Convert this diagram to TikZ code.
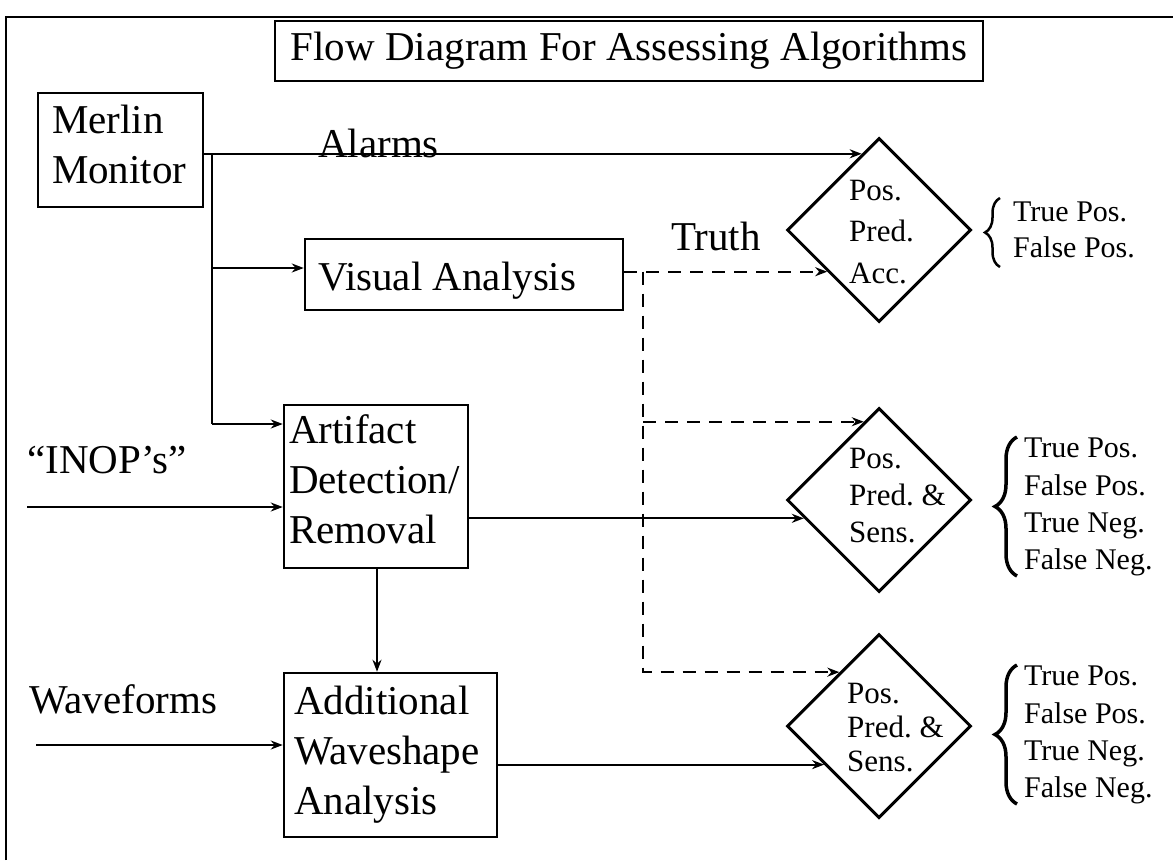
\documentclass[tikz,border=0pt]{standalone}
\usepackage{fontspec}
\setmainfont{Liberation Serif}
\usetikzlibrary{shapes.geometric,arrows.meta,calc,decorations.pathreplacing}
\newcommand\mainsz{\fontsize{41}{50}\selectfont}
\newcommand\nsp{\spaceskip=0pt\xspaceskip=0pt\relax}
\frenchspacing
\tikzset{
  frame/.style={line width=2.5pt},
  box/.style={draw, line width=2.5pt, inner ysep=0pt, font=\mainsz, align=left},
  conn/.style={line width=2.2pt},
  arr/.style={conn, -{Stealth[length=12pt,width=9pt]}},
  dline/.style={conn, dash pattern=on 13pt off 9pt},
  darr/.style={dline, -{Stealth[length=12pt,width=9pt]}},
  dia/.style={draw, diamond, line width=3pt, minimum width=184pt, minimum height=184pt, inner sep=0pt},
  dtxt/.style={anchor=north west, inner sep=0pt, align=left, font=\fontsize{31}{#1}\selectfont\frenchspacing},
  ltxtA/.style={anchor=north west, inner sep=0pt, align=left, font=\fontsize{30}{36}\selectfont\frenchspacing},
  ltxtB/.style={anchor=north west, inner sep=0pt, align=left, font=\fontsize{30}{37.3}\selectfont\frenchspacing},
  lbl/.style={inner sep=0pt, font=\mainsz},
  brc/.style={decorate, decoration={brace, amplitude=#1}},
}
\begin{document}
\begin{tikzpicture}[x=1pt,y=-1pt]
\useasboundingbox (0,0) rectangle (1173,860);
\draw[frame] (6,860) -- (6,17) -- (1173,17);

% boxes
\node[box, align=center, minimum width=708pt, minimum height=60pt] (title) at (629,51) {\nsp Flow Diagram For Assessing Algorithms};
\node[box, text width=137pt, inner xsep=14pt, minimum height=114pt] (mm) at (120.5,150) {Merlin\\Monitor\rule[-12pt]{0pt}{12pt}};
\node[box, text width=292pt, inner xsep=13pt, minimum height=71pt] (va) at (464,274.5) {\nsp\rule{0pt}{40pt}Visual Analysis};
\node[box, text width=174pt, inner xsep=5pt, minimum height=163pt] (ad) at (376,486.5) {Artifact\\Detection/\\Removal\rule[-15pt]{0pt}{15pt}};
\node[box, text width=193pt, inner xsep=10pt, minimum height=164pt] (aw) at (390.5,755) {Additional\\Waveshape\\Analysis};

% diamonds
\node[dia] (d1) at (879,230) {};
\node[dia] (d2) at (879,500) {};
\node[dia] (d3) at (879,726) {};
\node[dtxt=41.5] (t1) at (849,179.5) {Pos.\\Pred.\\Acc.};
\node[dtxt=37] (t2) at (849,447.5) {Pos.\\\nsp\frenchspacing Pred. \&\\Sens.};
\node[dtxt=34] (t3) at (847,682.5) {Pos.\\\nsp\frenchspacing Pred. \&\\Sens.};

% result lists
\node[ltxtA] (l1) at (1013,202) {\nsp True Pos.\\\nsp False Pos.};
\node[ltxtB] (l2) at (1024,438) {\nsp True Pos.\\\nsp False Pos.\\\nsp True Neg.\\\nsp False Neg.};
\node[ltxtB] (l3) at (1024,666) {\nsp True Pos.\\\nsp False Pos.\\\nsp True Neg.\\\nsp False Neg.};
\draw[brc=15pt, line width=2.5pt] (1000,267) -- (1000,198);
\draw[brc=22pt, line width=3.5pt] (1017,576) -- (1017,437);
\draw[brc=22pt, line width=3.5pt] (1017,804) -- (1017,665);

% labels
\node[lbl, anchor=base west] (alarms) at (318,157) {Alarms};
\node[lbl, anchor=base west] (truth) at (671,250) {Truth};
\node[lbl, anchor=base west] (inop) at (27,473) {“INOP’s”};
\node[lbl, anchor=base west] (wave) at (29,713) {Waveforms};

% connection points on diamonds
\coordinate (d1a) at ($(d1.west)!0.815!(d1.north)$);
\coordinate (d1b) at ($(d1.west)!0.446!(d1.south)$);
\coordinate (d2a) at ($(d2.west)!0.837!(d2.north)$);
\coordinate (d2b) at ($(d2.west)!0.196!(d2.south)$);
\coordinate (d3a) at ($(d3.west)!0.576!(d3.north)$);
\coordinate (d3b) at ($(d3.west)!0.413!(d3.south)$);

% solid connectors
\draw[arr] (mm.east |- d1a) -- (d1a);
\coordinate (jt) at (212,0 |- d1a);
\coordinate (jv) at (212,268);
\coordinate (ja) at (212,424);
\draw[conn] (jt) -- (ja);
\draw[arr] (jv) -- (jv -| va.west);
\draw[arr] (ja) -- (ja -| ad.west);
\coordinate (inop0) at (27,507);
\draw[arr] (inop0) -- (inop0 -| ad.west);
\coordinate (wave0) at (36,745);
\draw[arr] (wave0) -- (wave0 -| aw.west);
\draw[arr] (ad.east |- d2b) -- (d2b);
\draw[arr] (aw.east |- d3b) -- (d3b);
\draw[arr] (377,0 |- ad.south) -- (377,0 |- aw.north);

% dashed truth connectors
\draw[darr] (va.east |- d1b) -- (d1b);
\coordinate (tc) at (643,0 |- d1b);
\coordinate (bc) at (643,0 |- d3a);
\draw[darr] (tc) -- (bc) -- (d3a);
\draw[darr] (643,0 |- d2a) -- (d2a);
\end{tikzpicture}
\end{document}
